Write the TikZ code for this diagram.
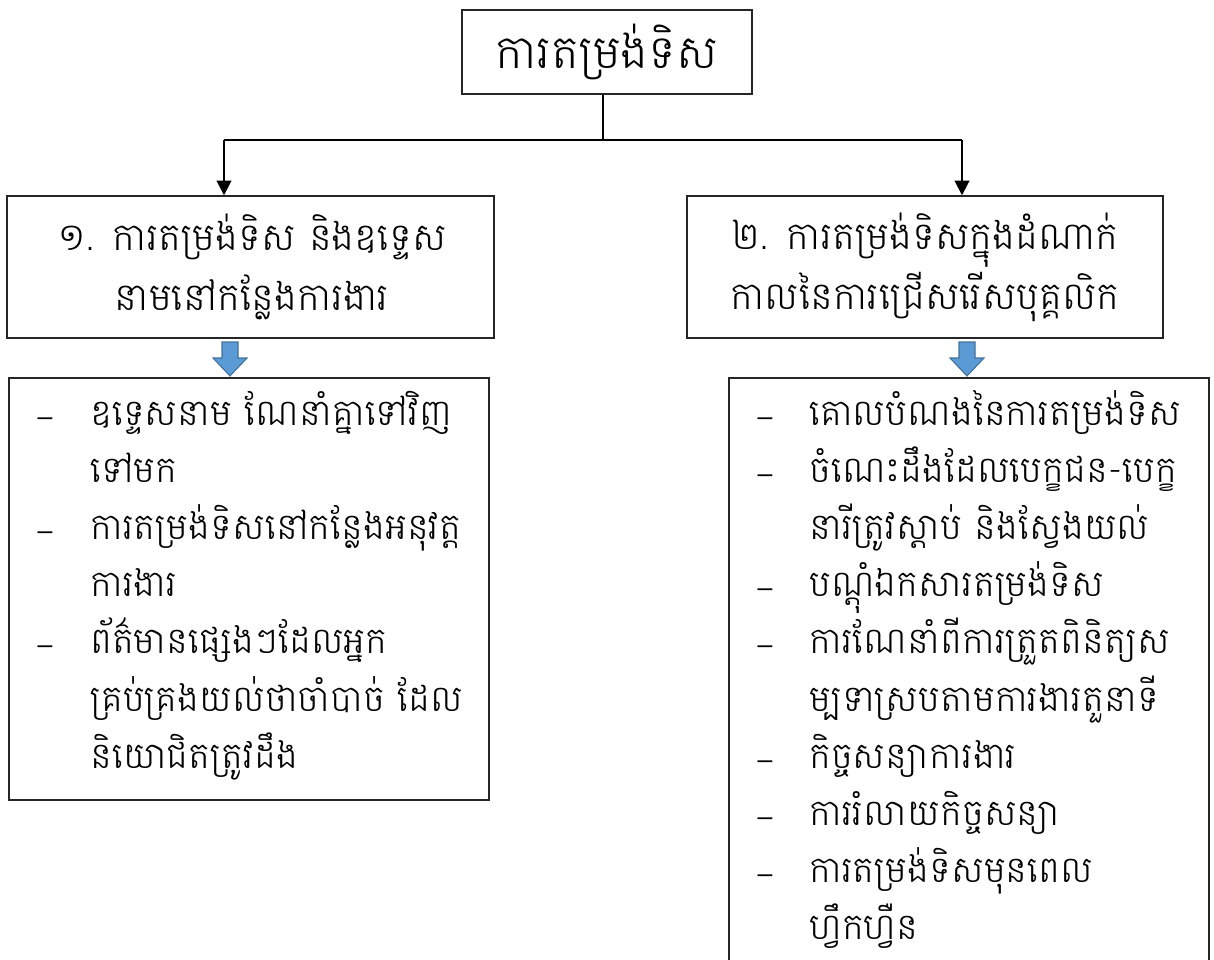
\documentclass[tikz,border=0pt]{standalone}
\usepackage{fontspec}
\usetikzlibrary{arrows.meta}
\IfFontExistsTF{Battambang Light}
  {\newfontfamily\khmer[Script=Khmer]{Battambang Light}}
  {\newfontfamily\khmer[Script=Khmer]{Battambang}}
\newfontfamily\dashfont{Liberation Sans}
\definecolor{blueA}{HTML}{5B9BD5}
\definecolor{blueB}{HTML}{41719C}
\begin{document}
\begin{tikzpicture}[x=0.75pt,y=-0.75pt,
  box/.style={draw=black!85, line width=1.1pt, inner sep=0pt},
  conn/.style={draw=black, line width=1.5pt},
  arr/.style={conn, -{Triangle[width=11pt,length=11pt]}},
  txt/.style={font=\khmer\fontsize{28.8}{45}\selectfont, inner sep=0pt},
  lline/.style={inner sep=0pt, font=\khmer\fontsize{27.5}{40}\selectfont, anchor=base west},
  dashmark/.style={font=\dashfont\fontsize{20}{24}\selectfont, inner sep=0pt, anchor=base},
  bluefill/.style={draw=blueB, fill=blueA, line width=0.8pt, line join=miter}]
\useasboundingbox (0,0) rectangle (1214,960);
% title
\node[box, minimum width=217.5pt, minimum height=63pt] (title) at (607,52) {};
\node[inner sep=0pt, font=\khmer\fontsize{35}{45}\selectfont] (tt) at (607,52) {ការតម្រង់ទិស};
% level 2 boxes
\node[box, minimum width=365pt, minimum height=106.5pt] (b1) at (250.5,267) {};
\node[txt, align=center] (b1t) at (252,267) {១. ការតម្រង់ទិស និងឧទ្ទេស\\នាមនៅកន្លែងការងារ};
\node[box, minimum width=357pt, minimum height=106.5pt] (b2) at (925,267) {};
\node[txt, align=center] (b2t) at (925,267) {២. ការតម្រង់ទិសក្នុងដំណាក់\\កាលនៃការជ្រើសរើសបុគ្គលិក};
% connectors
\coordinate (j) at (603,140);
\coordinate (jl) at (224,140);
\coordinate (jr) at (962,140);
\draw[conn] (j |- title.south) -- (j);
\draw[conn] (jl) -- (jr);
\draw[arr] (jl) -- (jl |- b1.north);
\draw[arr] (jr) -- (jr |- b2.north);
% blue arrows
\coordinate (a1) at (230,359);
\coordinate (a2) at (967,359);
\foreach \a in {a1,a2}
  \draw[bluefill, shift={(\a)}] (-8,-17) -- (8,-17) -- (8,-1) -- (17,-1) -- (0,17) -- (-17,-1) -- (-8,-1) -- cycle;
% list boxes
\node[box, minimum width=360pt, minimum height=316.5pt] (lb) at (249,589) {};
\node[box, minimum width=360pt, minimum height=450pt] (rb) at (969,678) {};
% left list
\foreach \t [count=\i from 0] in {ឧទ្ទេសនាម ណែនាំគ្នាទៅវិញ, ទៅមក, ការតម្រង់ទិសនៅកន្លែងអនុវត្ត, ការងារ, ព័ត៌មានផ្សេងៗដែលអ្នក, គ្រប់គ្រងយល់ថាចាំបាច់ ដែល, និយោជិតត្រូវដឹង}
  \node[lline] (L\i) at (90,425+57.2*\i) {\t};
\foreach \i in {0,2,4}
  \node[dashmark] (LD\i) at (45,425+57.2*\i) {–};
% right list
\foreach \t [count=\i from 0] in {គោលបំណងនៃការតម្រង់ទិស, ចំណេះដឹងដែលបេក្ខជន-បេក្ខ, នារីត្រូវស្តាប់ និងស្វែងយល់, បណ្ដុំឯកសារតម្រង់ទិស, ការណែនាំពីការត្រួតពិនិត្យស, ម្បទាស្របតាមការងារតួនាទី, កិច្ចសន្យាការងារ, ការរំលាយកិច្ចសន្យា, ការតម្រង់ទិសមុនពេល, ហ្វឹកហ្វឺន}
  \node[lline] (R\i) at (809,425+57.2*\i) {\t};
\foreach \i in {0,1,3,4,6,7,8}
  \node[dashmark] (RD\i) at (765,425+57.2*\i) {–};
\end{tikzpicture}
\end{document}
